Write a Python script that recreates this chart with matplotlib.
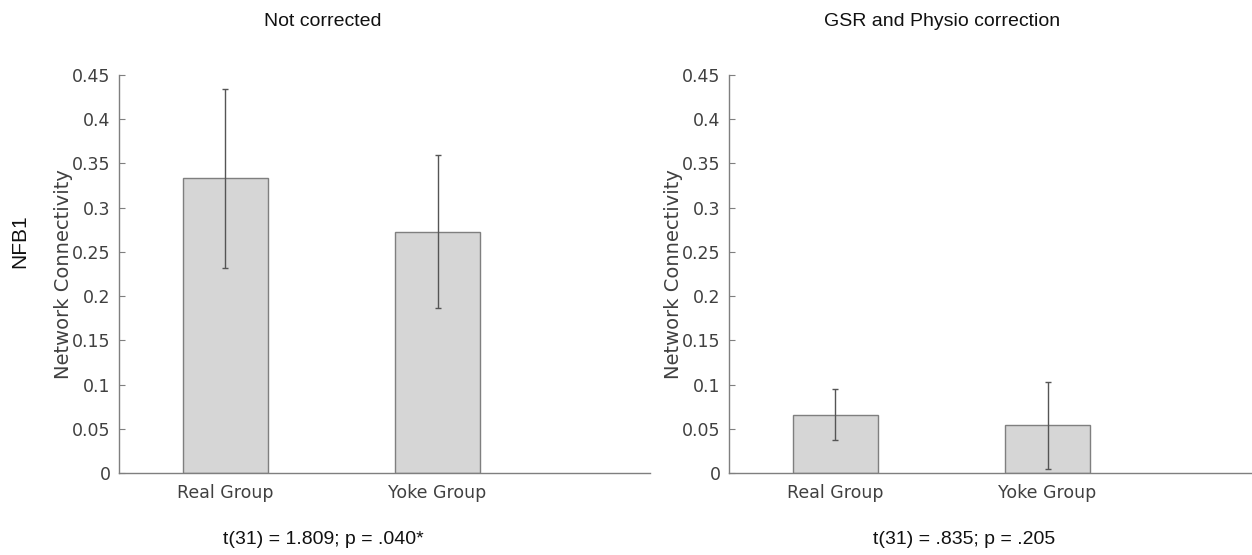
import matplotlib
matplotlib.use('Agg')
import matplotlib.pyplot as plt

groups = ['Real Group', 'Yoke Group']
panel_titles = ['Not corrected', 'GSR and Physio correction']
panel_stats = ['t(31) = 1.809; p = .040*', 't(31) = .835; p = .205']
means_raw = [0.333, 0.273]
err_raw = [0.101, 0.086]
means_gsr = [0.066, 0.054]
err_gsr = [0.029, 0.049]
yticks = [0, 0.05, 0.1, 0.15, 0.2, 0.25, 0.3, 0.35, 0.4, 0.45]
ytick_labels = ['0', '0.05', '0.1', '0.15', '0.2', '0.25', '0.3', '0.35', '0.4', '0.45']

W, H = 1252, 555
fig = plt.figure(figsize=(W / 100, H / 100), dpi=100)

axgray = '#7f7f7f'
txtgray = '#404040'

# axes boxes in pixels: left, right, top, bottom ; title / stat centres
boxes = [(119, 650, 75, 473), (729, 1260, 75, 473)]
title_x = [323, 942]
stat_x = [323, 964]
data = [(means_raw, err_raw), (means_gsr, err_gsr)]

for i, ((x0, x1, y0, y1), (m, e)) in enumerate(zip(boxes, data)):
    ax = fig.add_axes([x0 / W, 1 - y1 / H, (x1 - x0) / W, (y1 - y0) / H])
    x = [1, 2]
    ax.bar(x, m, width=0.4, color='#d6d6d6', edgecolor=axgray, linewidth=1.0, zorder=2)
    ax.errorbar(x, m, yerr=e, fmt='none', ecolor='#555555', elinewidth=1.0,
                capsize=2, capthick=1.0, zorder=3)
    ax.set_xlim(0.5, 3)
    ax.set_ylim(0, 0.45)
    ax.set_xticks(x)
    ax.set_xticklabels(groups)
    ax.set_yticks(yticks)
    ax.set_yticklabels(ytick_labels)
    for s in ['top', 'right']:
        ax.spines[s].set_visible(False)
    for s in ['left', 'bottom']:
        ax.spines[s].set_color(axgray)
        ax.spines[s].set_linewidth(1.0)
    ax.tick_params(direction='in', length=4, width=0.8, color=axgray,
                   labelcolor=txtgray, labelsize=12.5, pad=6)
    ax.tick_params(axis='x', pad=8)
    ax.set_ylabel('Network Connectivity', color=txtgray, fontsize=14)
    ax.yaxis.set_label_coords(-0.086, 0.5)
    fig.text(title_x[i] / W, 1 - 21 / H, panel_titles[i], ha='center', va='center',
             fontsize=14, family='Liberation Sans', color='#111111')
    fig.text(stat_x[i] / W, 1 - 540 / H, panel_stats[i], ha='center', va='center',
             fontsize=14, family='Liberation Sans', color='#111111')

fig.text(20 / W, 1 - 241 / H, 'NFB1', rotation=90, ha='center', va='center',
         fontsize=15, family='Liberation Sans', color='#111111')

fig.savefig('out.png', dpi=100)
